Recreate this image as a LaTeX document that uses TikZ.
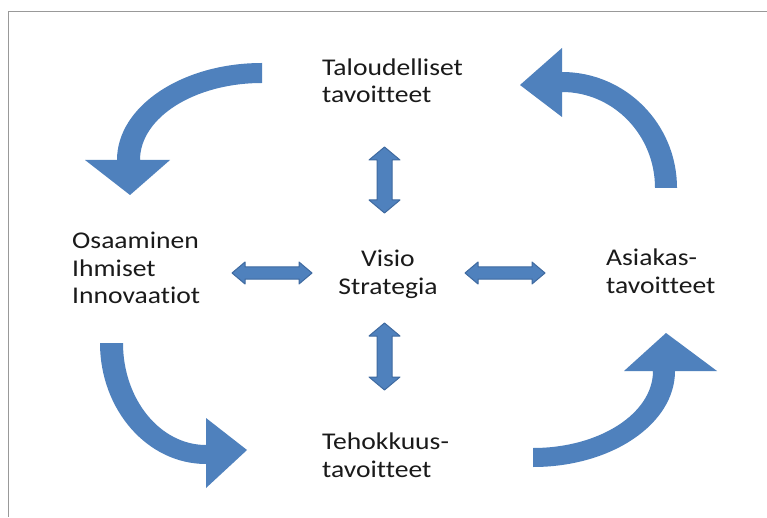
\documentclass[tikz,border=0pt]{standalone}
\usepackage{fontspec}
\setmainfont[FakeStretch=1.15,Ligatures=NoCommon]{Carlito}
\definecolor{arrowblue}{HTML}{4F81BD}
\definecolor{arrowedge}{HTML}{3F6AA0}
\definecolor{txt}{HTML}{1A1A1A}
\begin{document}
\begin{tikzpicture}[x=1pt,y=1pt,
  curved/.style={fill=arrowblue,draw=none},
  dblarrow/.style={fill=arrowblue,draw=arrowedge,line width=1pt,line join=round},
  lbl/.style={font=\fontsize{24}{27.5}\selectfont,text=txt,inner sep=0pt,align=left},
  frameline/.style={draw=gray!80,line width=1pt}]
\useasboundingbox (0,0) rectangle (767,517);
\fill[white] (0,0) rectangle (767,517);
\draw[frameline] (767,505) -- (8,505) -- (8,0);

% curved arrows
\path[curved] (262,454) arc[start angle=90,end angle=180,x radius=145,y radius=97]
  -- (85,357) -- (130,322) -- (170,357) -- (140,357)
  arc[start angle=180,end angle=90,x radius=122,y radius=77] -- cycle;
\path[curved] (677,329) arc[start angle=0,end angle=90,x radius=115,y radius=116]
  -- (562,469) -- (520,432) -- (562,400) -- (562,425)
  arc[start angle=90,end angle=0,x radius=93,y radius=96] -- cycle;
\path[curved] (100,174) arc[start angle=180,end angle=270,x radius=106,y radius=121]
  -- (206,29) -- (247,67) -- (206,99) -- (206,72)
  arc[start angle=270,end angle=180,x radius=83,y radius=102] -- cycle;
\path[curved] (533,50) arc[start angle=270,end angle=360,x radius=142,y radius=96]
  -- (717,146) -- (666,184) -- (624,146) -- (653,146)
  arc[start angle=360,end angle=270,x radius=120,y radius=77] -- cycle;

% double arrows
\path[dblarrow] (384.5,370) -- (400,357) -- (392,357) -- (392,317) -- (400,317) -- (384.5,304)
  -- (369,317) -- (377,317) -- (377,357) -- (369,357) -- cycle;
\path[dblarrow] (384.5,194) -- (400,181) -- (392,181) -- (392,140) -- (400,140) -- (384.5,127)
  -- (369,140) -- (377,140) -- (377,181) -- (369,181) -- cycle;
\path[dblarrow] (232,244) -- (245,255) -- (245,250) -- (299,250) -- (299,255) -- (312,244)
  -- (299,233) -- (299,238) -- (245,238) -- (245,233) -- cycle;
\path[dblarrow] (465,244) -- (478,255) -- (478,250) -- (532,250) -- (532,255) -- (545,244)
  -- (532,233) -- (532,238) -- (478,238) -- (478,233) -- cycle;

% labels
\node[lbl,anchor=west] (talous) at (322,436) {Taloudelliset\\tavoitteet};
\node[lbl,anchor=west] (osaa) at (72,249) {Osaaminen\\Ihmiset\\Innovaatiot};
\node[lbl,align=center] (visio) at (388,242.5) {Visio\\Strategia};
\node[lbl,anchor=west] (asiakas) at (606,245.5) {Asiakas-\\tavoitteet};
\node[lbl,anchor=west] (teho) at (322,61.5) {Tehokkuus-\\tavoitteet};
\end{tikzpicture}
\end{document}
